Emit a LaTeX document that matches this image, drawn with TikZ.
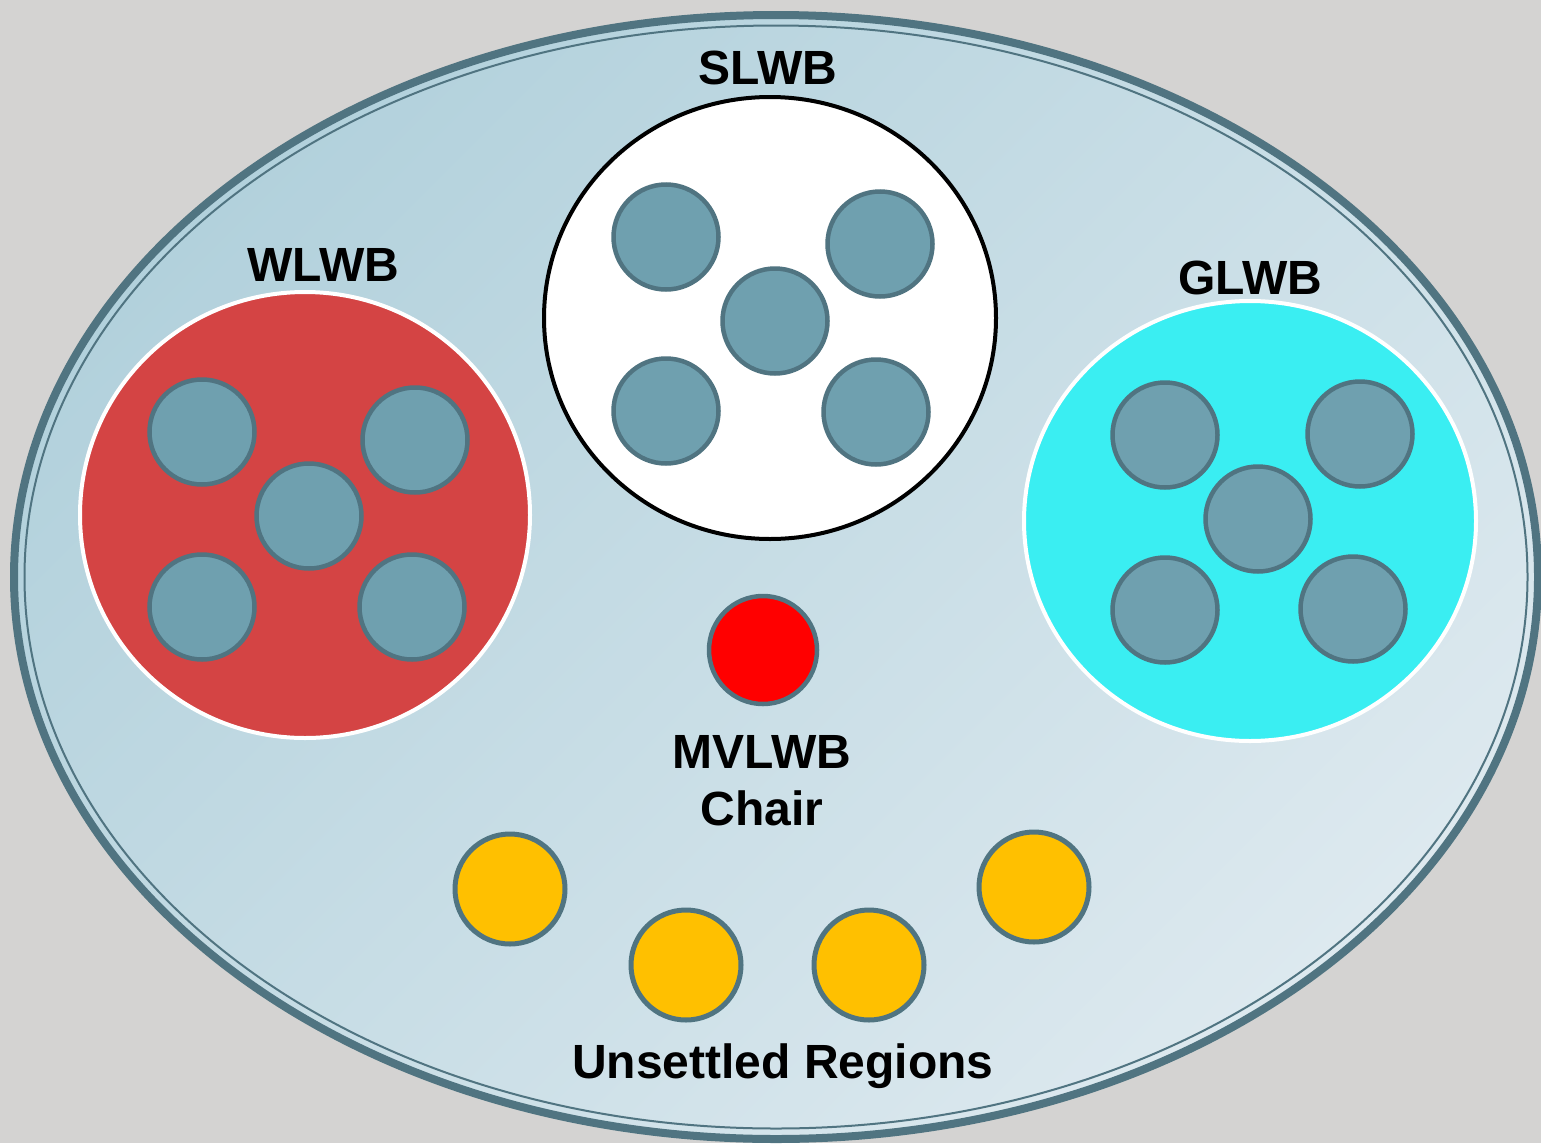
\documentclass[tikz,border=0pt]{standalone}
\usepackage{fontspec}
\setmainfont{Liberation Sans}
\begin{document}
\begin{tikzpicture}[x=1pt,y=-1pt,
  lbl/.style={font=\fontsize{48}{54}\selectfont\bfseries, text=black, inner sep=0pt},
  member/.style={circle, minimum size=105pt, inner sep=0pt, fill=memberfill, draw=rimcol, line width=4.5pt},
  region/.style={circle, minimum size=110pt, inner sep=0pt, fill=gold, draw=rimcol, line width=5pt}]
\definecolor{bgcol}{HTML}{D4D3D2}
\definecolor{rimcol}{HTML}{507481}
\definecolor{memberfill}{HTML}{6FA0AF}
\definecolor{gold}{HTML}{FFC000}
\definecolor{wred}{HTML}{D44444}
\definecolor{gcyan}{HTML}{3AEEF2}
\definecolor{paleA}{HTML}{B2D1DC}
\definecolor{paleB}{HTML}{DDE9EF}
\useasboundingbox (0,0) rectangle (1541,1143);
\fill[bgcol] (0,0) rectangle (1541,1143);
% outer ellipse
\shade[top color=paleA, bottom color=paleB, shading angle=45] (776,577) ellipse [x radius=762, y radius=562];
\draw[rimcol, line width=8pt] (776,577) ellipse [x radius=762, y radius=562];
\draw[rimcol, line width=2pt] (776,577) ellipse [x radius=751.5, y radius=551.5];
% boards
\path[draw=white, fill=wred, line width=4pt] (305,515) ellipse [x radius=225, y radius=223];
\coordinate (wc) at (305,515);
\path[draw=black, fill=white, line width=4pt] (770,318) ellipse [x radius=226, y radius=221];
\coordinate (sc) at (770,318);
\path[draw=white, fill=gcyan, line width=4pt] (1250,521) ellipse [x radius=226, y radius=220];
\coordinate (gc) at (1250,521);
% labels
\node[lbl] (slwb) at (768,68) {SLWB};
\node[lbl] (wlwb) at (323,265) {WLWB};
\node[lbl] (glwb) at (1250,278) {GLWB};
% WLWB members
\node[member] (w1) at (202,432) {};
\node[member] (w2) at (415,440) {};
\node[member] (w3) at (309,516) {};
\node[member] (w4) at (202,607) {};
\node[member] (w5) at (412,607) {};
% SLWB members
\node[member] (s1) at (666,237) {};
\node[member] (s2) at (880,244) {};
\node[member] (s3) at (775,321) {};
\node[member] (s4) at (666,411) {};
\node[member] (s5) at (876,412) {};
% GLWB members
\node[member] (g1) at (1165,435) {};
\node[member] (g2) at (1360,434) {};
\node[member] (g3) at (1258,519) {};
\node[member] (g4) at (1165,610) {};
\node[member] (g5) at (1353,609) {};
% chair
\node[member, fill=red, minimum size=108pt] (chair) at (763,650) {};
\node[lbl] (mv) at (762,752) {MVLWB};
\node[lbl] (ch) at (762,808) {Chair};
% unsettled
\node[region] (u1) at (510,889) {};
\node[region] (u2) at (686,965) {};
\node[region] (u3) at (869,965) {};
\node[region] (u4) at (1034,887) {};
\node[lbl] (ur) at (783,1066) {Unsettled Regions};
\end{tikzpicture}
\end{document}
